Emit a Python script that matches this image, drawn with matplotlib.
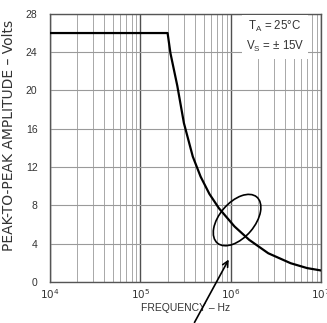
import matplotlib
matplotlib.use("Agg")
import matplotlib.pyplot as plt
from matplotlib.patches import Ellipse
from matplotlib.ticker import LogLocator, NullFormatter

plt.rcParams['font.family'] = ['Liberation Sans', 'DejaVu Sans']

# values (frequency in Hz, amplitude in Vpp)
freq = [1e4, 2e5, 2.15e5, 2.56e5, 3.03e5, 3.8e5, 4.64e5, 5.8e5, 7.4e5, 1.1e6,
        1.6e6, 2.6e6, 4.6e6, 7e6, 1e7]
vpp = [26.0, 26.0, 23.9, 20.5, 16.6, 13.1, 11.0, 9.2, 7.7, 5.8,
       4.4, 3.0, 1.96, 1.45, 1.2]
yticks = [0, 4, 8, 12, 16, 20, 24, 28]
xticks = [1e4, 1e5, 1e6, 1e7]
xticklabels = ['$10^4$', '$10^5$', '$10^6$', '$10^7$']

fig = plt.figure(figsize=(3.27, 3.23), dpi=100)
ax = fig.add_axes([0.153, 0.127, 0.829, 0.830])

ax.semilogx(freq, vpp, color='black', linewidth=1.6, zorder=3)

ax.set_xlim(1e4, 1e7)
ax.set_ylim(0, 28)
ax.set_yticks(yticks)
ax.set_xticks(xticks)
ax.set_xticklabels(xticklabels)
ax.xaxis.set_minor_locator(LogLocator(base=10, subs=range(2, 10)))
ax.xaxis.set_minor_formatter(NullFormatter())
ax.tick_params(which='both', length=0, labelsize=7.5, colors='#333333')
ax.tick_params(axis='y', pad=9)
ax.tick_params(axis='x', pad=4)

ax.grid(True, which='minor', axis='x', color='#9a9a9a', linewidth=0.6)
ax.grid(True, which='major', axis='x', color='#505050', linewidth=1.0)
ax.grid(True, which='major', axis='y', color='#9a9a9a', linewidth=0.8)
for s in ax.spines.values():
    s.set_color('#555555')
    s.set_linewidth(1.0)

ax.set_xlabel('FREQUENCY – Hz', fontsize=7.5, color='#333333', labelpad=1)
ax.set_ylabel('PEAK-TO-PEAK AMPLITUDE – Volts', fontsize=10, family='DejaVu Sans',
              color='#333333')
ax.yaxis.set_label_coords(-0.125, 0.545)

ax.text(0.83, 0.98, '$\\mathregular{T_A}$ = 25°C\n$\\mathregular{V_S}$ = ± 15V',
        transform=ax.transAxes, ha='center', va='top', fontsize=8.3,
        color='#333333', linespacing=1.45, multialignment='center',
        bbox=dict(facecolor='white', edgecolor='none', pad=3), zorder=4)

# hand-drawn marking
ax.add_patch(Ellipse((0.69, 0.231), 0.225, 0.13, angle=50, transform=ax.transAxes,
                     fill=False, edgecolor='black', linewidth=1.2, zorder=5))
ax.annotate('', xy=(0.664, 0.093), xytext=(0.528, -0.16), xycoords='axes fraction',
            arrowprops=dict(arrowstyle='->', color='black', lw=1.2), annotation_clip=False)

fig.savefig('out.png', dpi=100)
